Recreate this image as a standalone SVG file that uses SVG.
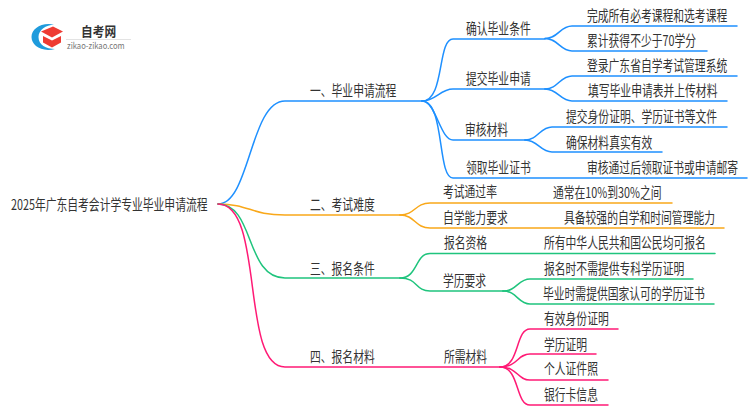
<svg xmlns="http://www.w3.org/2000/svg" width="750" height="410" viewBox="0 0 750 410">
<style>
text{font-family:"Noto Sans CJK SC","Liberation Sans",sans-serif;font-size:14.5px;fill:#333;dominant-baseline:central;}
.c path{fill:none;stroke-width:1.5;stroke-linecap:round;}
.b path{stroke:#1e90ff}.o path{stroke:#f9a81a}.g path{stroke:#1fc47d}.p path{stroke:#ff1a75}
</style>
<rect width="750" height="410" fill="#fff"/>
<g id="logo">
<path d="M54 24.500C41 22 31.500 29 31.500 37C31.500 45 41 52.500 55 49C46 49 38.500 45 38.500 37C38.500 30 46 25 54 24.500Z" fill="#1f9bdc"/>
<path d="M41 31.500L53 26.500L63 31.500L52 37.500Z" fill="#ee3b33"/>
<path d="M43 36L52 40.500L61 36V42.500L52 47.500L43 42.500Z" fill="#ee3b33"/>
<text transform="translate(81 30.500) scale(.9 1)" style="font-size:13px;font-weight:700">自考网</text>
<rect x="66" y="39" width="65" height="0.8" fill="#ddd"/>
<text transform="translate(67 45.500) scale(.9 1)" style="font-size:8.500px;fill:#777">zikao-zikao.com</text>
</g>
<g id="connectors" class="c">
<g class="b">
<path d="M218 204C250 204 250 101 285 101H422"/>
<path d="M422 101C445 101 437 39 453 39H545"/>
<path d="M422 101C436 101 440 89 453 89H545"/>
<path d="M422 101C436 101 440 140 453 140H525"/>
<path d="M422 101C445 101 437 178 453 178H747"/>
<path d="M545 38.500C558 38.500 560 26 572 26H737"/>
<path d="M545 38.500C558 38.500 560 51 572 51H707"/>
<path d="M545 89C558 89 560 76 572 76H737"/>
<path d="M545 89C558 89 560 101 572 101H727"/>
<path d="M525 140C538 140 540 127 552 127H727"/>
<path d="M525 140C538 140 540 152 552 152H662"/>
</g>
<g class="o">
<path d="M218 204C250 204 250 215 285 215H400"/>
<path d="M400 215C415 215 415 203 430 203H672"/>
<path d="M400 215C415 215 415 228 430 228H724"/>
</g>
<g class="g">
<path d="M218 204C255 204 245 278 285 278H400"/>
<path d="M400 278C418 278 415 253.500 430 253.500H715"/>
<path d="M400 278C418 278 415 291 430 291H503"/>
<path d="M503 291C517 291 518 279 530 279H693"/>
<path d="M503 291C517 291 518 304 530 304H714"/>
</g>
<g class="p">
<path d="M218 204C265 204 240 367 285 367H500"/>
<path d="M500 367C520 367 515 329 530 329H618"/>
<path d="M500 367C518 367 517 354 530 354H596"/>
<path d="M500 367C518 367 517 380 530 380H608"/>
<path d="M500 367C520 367 515 405 530 405H608"/>
</g>
</g>
<g id="root"><text transform="translate(11 204) scale(.745 1)">2025年广东自考会计学专业毕业申请流程</text></g>
<g id="n1"><text transform="translate(310 90) scale(.745 1)">一、毕业申请流程</text></g>
<g id="n2"><text transform="translate(310 204) scale(.745 1)">二、考试难度</text></g>
<g id="n3"><text transform="translate(310 268) scale(.745 1)">三、报名条件</text></g>
<g id="n4"><text transform="translate(310 356) scale(.745 1)">四、报名材料</text></g>
<g id="n1-1"><text transform="translate(466 28) scale(.745 1)">确认毕业条件</text></g>
<g id="n1-2"><text transform="translate(466 78) scale(.745 1)">提交毕业申请</text></g>
<g id="n1-3"><text transform="translate(465 129) scale(.745 1)">审核材料</text></g>
<g id="n1-4"><text transform="translate(466 167) scale(.745 1)">领取毕业证书</text></g>
<g id="n1-1-1"><text transform="translate(587 15) scale(.745 1)">完成所有必考课程和选考课程</text></g>
<g id="n1-1-2"><text transform="translate(587 40) scale(.745 1)">累计获得不少于70学分</text></g>
<g id="n1-2-1"><text transform="translate(587 65) scale(.745 1)">登录广东省自学考试管理系统</text></g>
<g id="n1-2-2"><text transform="translate(588 90) scale(.745 1)">填写毕业申请表并上传材料</text></g>
<g id="n1-3-1"><text transform="translate(566 116) scale(.745 1)">提交身份证明、学历证书等文件</text></g>
<g id="n1-3-2"><text transform="translate(566 142) scale(.745 1)">确保材料真实有效</text></g>
<g id="n1-4-1"><text transform="translate(587 167) scale(.745 1)">审核通过后领取证书或申请邮寄</text></g>
<g id="n2-1"><text transform="translate(443 191) scale(.745 1)">考试通过率</text></g>
<g id="n2-2"><text transform="translate(443 217) scale(.745 1)">自学能力要求</text></g>
<g id="n2-1-1"><text transform="translate(553 192) scale(.745 1)">通常在10%到30%之间</text></g>
<g id="n2-2-1"><text transform="translate(564 217) scale(.745 1)">具备较强的自学和时间管理能力</text></g>
<g id="n3-1"><text transform="translate(444 242) scale(.745 1)">报名资格</text></g>
<g id="n3-2"><text transform="translate(443 280) scale(.745 1)">学历要求</text></g>
<g id="n3-1-1"><text transform="translate(544 242) scale(.745 1)">所有中华人民共和国公民均可报名</text></g>
<g id="n3-2-1"><text transform="translate(544 268) scale(.745 1)">报名时不需提供专科学历证明</text></g>
<g id="n3-2-2"><text transform="translate(543 293) scale(.745 1)">毕业时需提供国家认可的学历证书</text></g>
<g id="n4-1"><text transform="translate(444 356) scale(.745 1)">所需材料</text></g>
<g id="n4-1-1"><text transform="translate(544 318) scale(.745 1)">有效身份证明</text></g>
<g id="n4-1-2"><text transform="translate(544 344) scale(.745 1)">学历证明</text></g>
<g id="n4-1-3"><text transform="translate(544 368) scale(.745 1)">个人证件照</text></g>
<g id="n4-1-4"><text transform="translate(544 394) scale(.745 1)">银行卡信息</text></g>
</svg>
